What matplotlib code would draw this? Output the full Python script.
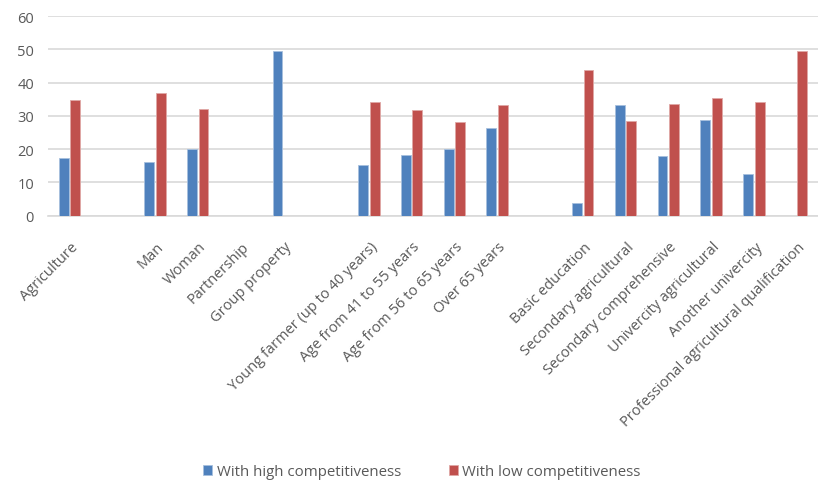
import matplotlib
matplotlib.use("Agg")
import matplotlib.pyplot as plt
import matplotlib.transforms as mtransforms
import numpy as np

categories = ["Agriculture", "", "Man", "Woman", "Partnership", "Group property", "",
              "Young farmer (up to 40 years)", "Age from 41 to 55 years",
              "Age from 56 to 65 years", "Over 65 years", "",
              "Basic education", "Secondary agricultural", "Secondary comprehensive",
              "Univercity agricultural", "Another univercity",
              "Professional agricultural qualification"]
high = [17.2, np.nan, 16.1, 20.1, np.nan, 49.6, np.nan, 15.1, 18.3, 20.1, 26.4, np.nan,
        3.8, 33.2, 17.9, 28.9, 12.5, np.nan]
low = [34.7, np.nan, 36.8, 32.2, np.nan, np.nan, np.nan, 34.3, 31.8, 28.2, 33.2, np.nan,
       43.8, 28.5, 33.6, 35.4, 34.3, 49.6]
series_names = ["With high competitiveness", "With low competitiveness"]

plt.rcParams['font.family'] = ['Open Sans', 'DejaVu Sans']
fig = plt.figure(figsize=(8.18, 4.85), dpi=100)
ax = fig.add_axes([48/818, 1-216.7/485, 1-48/818, (216.7-17)/485])

x = np.arange(len(categories))
w = 0.23
ax.bar(x - 0.135, high, w, color="#4F81BD", edgecolor="#A7C0DE", linewidth=0.6, label=series_names[0], zorder=3)
ax.bar(x + 0.135, low, w, color="#C0504D", edgecolor="#E0A8A6", linewidth=0.6, label=series_names[1], zorder=3)

ax.set_xlim(-0.5, len(categories) - 0.5)
ax.set_ylim(0, 60)
ax.set_yticks(range(0, 61, 10))
ax.yaxis.grid(True, color="#D9D9D9", linewidth=1.2, zorder=0)
ax.set_axisbelow(True)
for s in ["top", "right", "left"]:
    ax.spines[s].set_visible(False)
ax.spines["bottom"].set_color("#D9D9D9")
ax.spines["bottom"].set_linewidth(1.2)
ax.tick_params(axis="both", length=0, colors="#595959", labelsize=10.5)
ax.tick_params(axis="x", pad=14)
ax.tick_params(axis="y", pad=10)
ax.set_xticks(x)
ax.set_xticklabels(categories, rotation=45, ha="right", rotation_mode="anchor")
offset = mtransforms.ScaledTranslation(1/100, -4/100, fig.dpi_scale_trans)
for lab in ax.get_xticklabels():
    lab.set_transform(lab.get_transform() + offset)

fig.legend(loc="center", bbox_to_anchor=(422/818, 1-473/485), ncol=2, frameon=False,
           fontsize=10.8, labelcolor="#595959", handlelength=0.6, handleheight=0.6,
           handletextpad=0.3, columnspacing=3.2)

fig.savefig("out.png", dpi=100)
